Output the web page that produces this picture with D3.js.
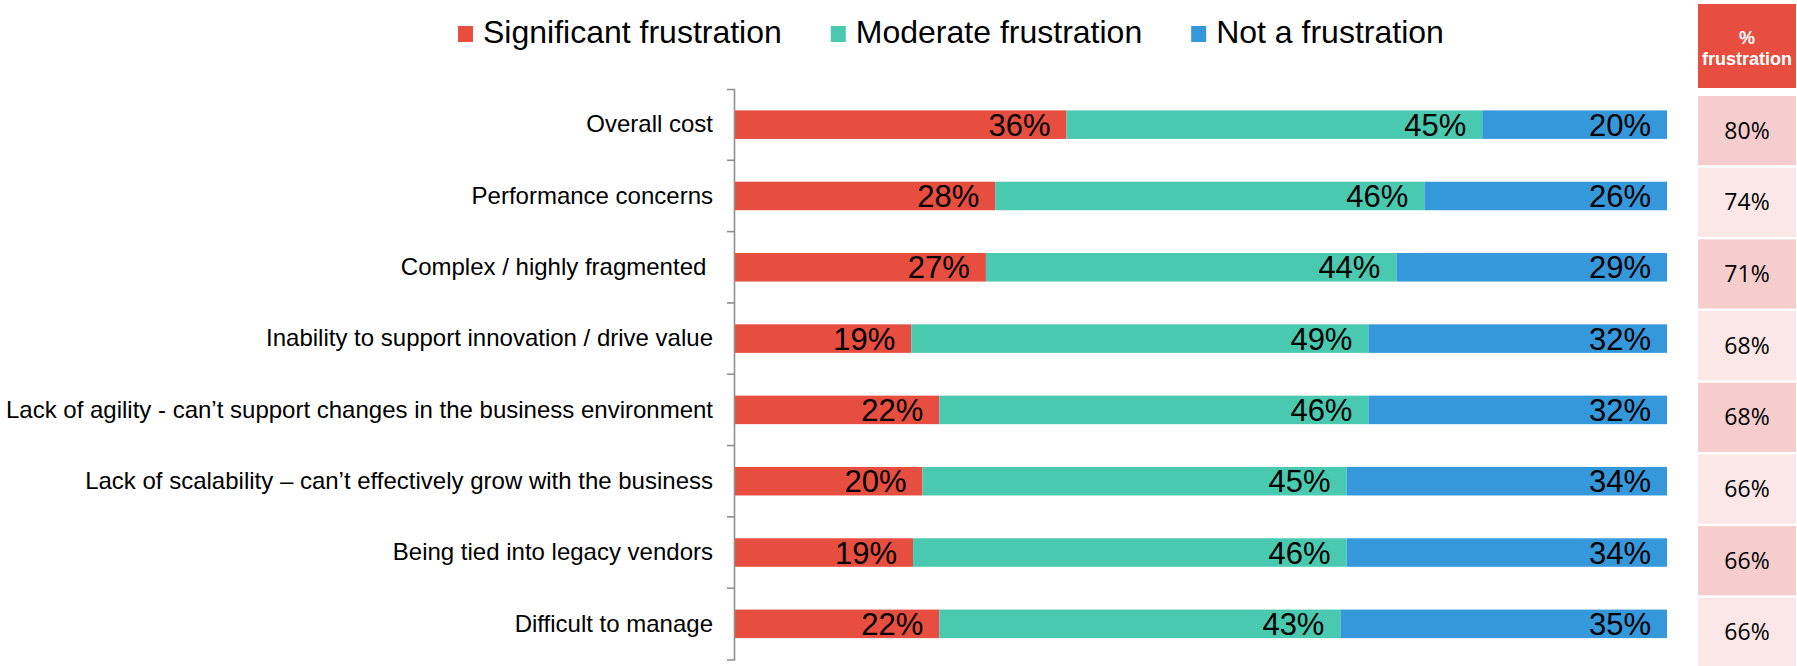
<html>
<head>
<meta charset="utf-8">
<title>Frustrations</title>
<style>
  body { margin: 0; background: #fff; }
  text { font-family: "Liberation Sans", Arial, Helvetica, sans-serif; }
</style>
</head>
<body>
<script src="https://cdn.jsdelivr.net/npm/d3@7"></script>
<script>
    var width = 1797;
    var height = 666;

    var categories = [
        "Overall cost",
        "Performance concerns",
        "Complex / highly fragmented ",
        "Inability to support innovation / drive value",
        "Lack of agility - can\u2019t support changes in the business environment",
        "Lack of scalability \u2013 can\u2019t effectively grow with the business",
        "Being tied into legacy vendors",
        "Difficult to manage"
    ];
    var seriesNames = ["Significant frustration", "Moderate frustration", "Not a frustration"];
    var significant = [36, 28, 27, 19, 22, 20, 19, 22];
    var moderate    = [45, 46, 44, 49, 46, 45, 46, 43];
    var notAtAll    = [20, 26, 29, 32, 32, 34, 34, 35];
    var totalFrustration = [80, 74, 71, 68, 68, 66, 66, 66];
    var colors = ["#e84e3f", "#48c9b0", "#3598db"];

    var keys = ["sig", "mod", "not"];
    var rows = categories.map(function (c, i) {
        return { cat: c, sig: significant[i], mod: moderate[i], not: notAtAll[i], tot: totalFrustration[i] };
    });

    var svg = d3.select("body").append("svg")
        .attr("width", width)
        .attr("height", height);

    var x = d3.scaleLinear().domain([0, 1]).range([734, 1667]);
    var y = d3.scaleBand().domain(categories).range([89, 659.5])
        .paddingInner(0.6).paddingOuter(0.3);
    var color = d3.scaleOrdinal().domain(keys).range(colors);

    // stacked bars, each row scaled to full width
    var stacked = d3.stack().keys(keys).offset(d3.stackOffsetExpand)(rows);

    var layers = svg.selectAll("g.layer")
        .data(stacked)
        .enter().append("g")
        .attr("class", "layer")
        .attr("fill", function (d) { return color(d.key); });

    layers.selectAll("rect")
        .data(function (d) { return d; })
        .enter().append("rect")
        .attr("x", function (d) { return x(d[0]); })
        .attr("y", function (d) { return y(d.data.cat); })
        .attr("width", function (d) { return x(d[1]) - x(d[0]); })
        .attr("height", y.bandwidth());

    layers.each(function (layer) {
        d3.select(this).selectAll("text")
            .data(layer)
            .enter().append("text")
            .attr("x", function (d) { return x(d[1]) - 16; })
            .attr("y", function (d) { return y(d.data.cat) + y.bandwidth() / 2 + 11; })
            .attr("text-anchor", "end")
            .attr("fill", "#000")
            .style("font-size", "31px")
            .text(function (d) { return d.data[layer.key] + "%"; });
    });

    // y axis with bracket ends
    var axis = svg.append("g")
        .attr("transform", "translate(734,0)")
        .call(d3.axisLeft(y).tickSize(0).tickSizeOuter(7).tickPadding(21));
    axis.select(".domain").attr("stroke", "#8f8f8f").attr("stroke-width", 1.6);
    axis.selectAll(".tick text")
        .attr("fill", "#000")
        .style("font-size", "24px")
        .style("white-space", "pre")
        .style("font-family", "'Liberation Sans', Arial, sans-serif");

    // ticks between categories
    axis.selectAll("line.sep")
        .data(categories.slice(1))
        .enter().append("line")
        .attr("class", "sep")
        .attr("x1", -7).attr("x2", 0)
        .attr("y1", function (d) { return y(d) - y.step() * y.paddingInner() / 2; })
        .attr("y2", function (d) { return y(d) - y.step() * y.paddingInner() / 2; })
        .attr("stroke", "#8f8f8f")
        .attr("stroke-width", 1.6);

    // legend
    var legend = svg.append("g");
    var lx = 458;
    seriesNames.forEach(function (name, i) {
        var g = legend.append("g").attr("transform", "translate(" + lx + ",0)");
        g.append("rect")
            .attr("x", 0).attr("y", 26)
            .attr("width", 15).attr("height", 16)
            .attr("fill", colors[i]);
        var t = g.append("text")
            .attr("x", 25).attr("y", 43)
            .attr("fill", "#000")
            .style("font-size", "32px")
            .text(name);
        lx += 25 + t.node().getComputedTextLength() + 49;
    });

    // % frustration table on the right
    var ty = d3.scaleBand().domain(categories).range([96, 667]).paddingInner(0.035);
    var tx = 1698, tw = 98;

    svg.append("rect")
        .attr("x", tx).attr("y", 4)
        .attr("width", tw).attr("height", 84)
        .attr("fill", "#e84e3f");
    svg.append("text")
        .attr("x", tx + tw / 2).attr("y", 44)
        .attr("text-anchor", "middle")
        .attr("fill", "#fff")
        .style("font-size", "18px").style("font-weight", "bold")
        .text("%");
    svg.append("text")
        .attr("x", tx + tw / 2).attr("y", 65)
        .attr("text-anchor", "middle")
        .attr("fill", "#fff")
        .style("font-size", "18px").style("font-weight", "bold")
        .text("frustration");

    var cells = svg.selectAll("g.cell")
        .data(rows)
        .enter().append("g")
        .attr("class", "cell")
        .attr("transform", function (d) { return "translate(" + tx + "," + ty(d.cat) + ")"; });
    cells.append("rect")
        .attr("width", tw)
        .attr("height", ty.bandwidth())
        .attr("fill", function (d, i) { return i % 2 === 0 ? "#f5cdcd" : "#fbe7e7"; });
    cells.append("text")
        .attr("x", tw / 2)
        .attr("y", ty.bandwidth() / 2 + 8)
        .attr("text-anchor", "middle")
        .attr("fill", "#000")
        .style("font-family", "'Open Sans', 'Noto Sans', sans-serif")
        .style("font-size", "23px")
        .text(function (d) { return d.tot + "%"; });
</script>
</body>
</html>
